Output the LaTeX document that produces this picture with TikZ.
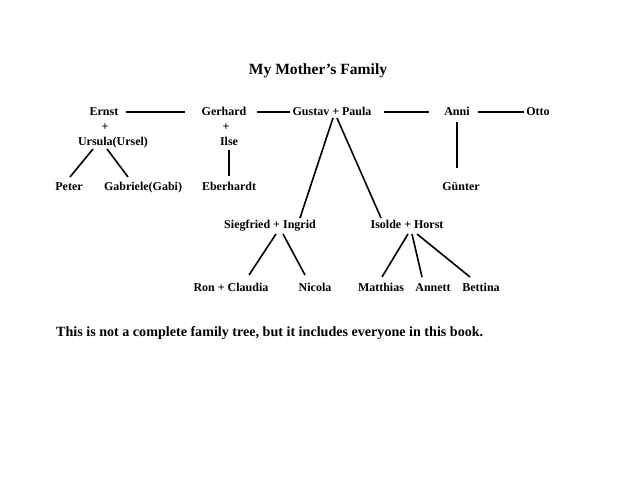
\documentclass[tikz,border=0pt]{standalone}
\usepackage{fontspec}
\setmainfont{Liberation Serif}
\usetikzlibrary{calc}
\begin{document}
\begin{tikzpicture}[x=1pt,y=-1pt,
  person/.style={inner sep=0pt,text height=8.5pt,text depth=2.5pt,font=\bfseries\fontsize{12}{14}\selectfont},
  link/.style={line width=1.6pt}]
\useasboundingbox (0,0) rectangle (640,495);
\fill[white] (0,0) rectangle (640,495);
\node[inner sep=0pt,text height=10.5pt,text depth=3.5pt,font=\bfseries\fontsize{15.6}{18}\selectfont] (title) at (318,71) {My Mother’s Family};
% top row
\node[person] (ernst) at (104,112) {Ernst};
\node[person] (plus1) at (105,127) {+};
\node[person] (ursula) at (113,142) {Ursula(Ursel)};
\node[person] (peter) at (69,187) {Peter};
\node[person] (gabi) at (143,187) {Gabriele(Gabi)};
\node[person] (gerhard) at (224,112) {Gerhard};
\node[person] (plus2) at (226,127) {+};
\node[person] (ilse) at (229,142) {Ilse};
\node[person] (eber) at (229,187) {Eberhardt};
\node[person] (gp) at (332,112) {Gustav + Paula};
\node[person] (anni) at (457,112) {Anni};
\node[person] (otto) at (538,112) {Otto};
\node[person] (gunter) at (461,187) {Günter};
\node[person] (sieg) at (270,225) {Siegfried + Ingrid};
\node[person] (isolde) at (407,225) {Isolde + Horst};
\node[person] (ron) at (231,288) {Ron + Claudia};
\node[person] (nicola) at (315,288) {Nicola};
\node[person] (matt) at (381,288) {Matthias};
\node[person] (annett) at (433,288) {Annett};
\node[person] (bett) at (481,288) {Bettina};
\node[inner sep=0pt,text height=9.5pt,text depth=3pt,font=\bfseries\fontsize{14.1}{16}\selectfont,anchor=west] (foot) at (56,333) {This is not a complete family tree, but it includes everyone in this book.};
% connectors
\draw[link] ([xshift=7pt]ernst.east) -- ([xshift=-16pt]gerhard.west);
\draw[link] ([xshift=10pt]gerhard.east) -- ([xshift=-2pt]gp.west);
\draw[link] ([xshift=12pt]gp.east) -- ([xshift=-15pt]anni.west);
\draw[link] ([xshift=8pt]anni.east) -- ([xshift=-2pt]otto.west);
\draw[link] ($(ursula.center)+(-20,7)$) -- ($(peter.center)+(1,-10)$);
\draw[link] ($(ursula.center)+(-6,7)$) -- ($(gabi.center)+(-15,-10)$);
\draw[link] ($(ilse.center)+(0,8)$) -- ($(eber.center)+(0,-11)$);
\draw[link] ($(anni.center)+(0,10)$) -- ($(gunter.center)+(-4,-19)$);
\draw[link] ($(gp.center)+(1,6)$) -- ($(sieg.center)+(30,-7)$);
\draw[link] ($(gp.center)+(5,6)$) -- ($(isolde.center)+(-26,-7)$);
\draw[link] ($(sieg.center)+(6,9)$) -- ($(ron.center)+(18,-13)$);
\draw[link] ($(sieg.center)+(13,9)$) -- ($(nicola.center)+(-10,-13)$);
\draw[link] ($(isolde.center)+(1,9)$) -- ($(matt.center)+(1,-11)$);
\draw[link] ($(isolde.center)+(5,9)$) -- ($(annett.center)+(-11,-11)$);
\draw[link] ($(isolde.center)+(10,9)$) -- ($(bett.center)+(-11,-11)$);
\end{tikzpicture}
\end{document}
